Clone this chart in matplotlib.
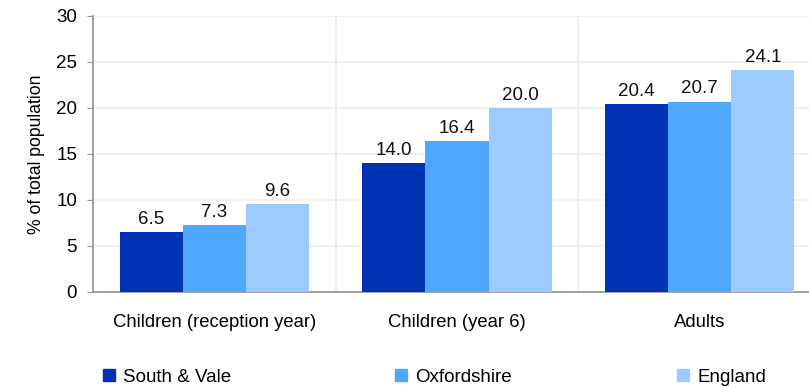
import numpy as np
import matplotlib.pyplot as plt
from matplotlib.lines import Line2D

plt.rcParams['font.family'] = ['Liberation Sans', 'DejaVu Sans']

categories = ['Children (reception year)', 'Children (year 6)', 'Adults']
series = ['South & Vale', 'Oxfordshire', 'England']
south_vale = [6.5, 14.0, 20.4]
oxfordshire = [7.3, 16.4, 20.7]
england = [9.6, 20.0, 24.1]
colors = ['#0033B3', '#4FA8FF', '#9CCBFF']

fig = plt.figure(figsize=(8.09, 3.88), dpi=100)
# the plot area runs a little past the right edge of the picture
ax = fig.add_axes([93 / 809, 1 - 292 / 388, 728 / 809, 276 / 388])

x = np.arange(len(categories))
w = 0.26
for k, (vals, col) in enumerate(zip([south_vale, oxfordshire, england], colors)):
    pos = x + (k - 1) * w
    ax.bar(pos, vals, w, color=col, zorder=3, label=series[k])
    for xi, v in zip(pos, vals):
        ax.text(xi, v + 0.45, f'{v:.1f}', ha='center', va='bottom', fontsize=13.5, color='#111111')

ax.set_xlim(-0.5, 2.5)
ax.set_ylim(0, 30)
ax.set_yticks(range(0, 31, 5))
ax.set_xticks(x)
ax.set_xticklabels(categories, fontsize=13.3)
ax.tick_params(axis='x', length=0, pad=16)
ax.tick_params(axis='y', labelsize=13.5, length=4.5, color='#999999', pad=7)
ax.set_xticks([0.5, 1.5], minor=True)
ax.tick_params(axis='x', which='minor', length=0)

ax.grid(axis='y', color='#EEEEEE', linewidth=1.2, zorder=0)
ax.grid(axis='x', which='minor', color='#EEEEEE', linewidth=1.5, zorder=0)
for s in ['top', 'right']:
    ax.spines[s].set_visible(False)
for s in ['left', 'bottom']:
    ax.spines[s].set_color('#999999')
    ax.spines[s].set_linewidth(1.3)

ax.set_ylabel('% of total population', fontsize=12.7, labelpad=8)

# legend entries spread across the bottom
legend_x = [100 / 809, 392 / 809, 674 / 809]
for name, col, lx in zip(series, colors, legend_x):
    h = Line2D([], [], marker='s', linestyle='', color=col, markersize=8)
    fig.legend([h], [name], loc='center left', bbox_to_anchor=(lx, 1 - 377 / 388),
               frameon=False, fontsize=13.5, handletextpad=0.23, borderpad=0,
               handlelength=1.0, borderaxespad=0)

fig.savefig('out.png', dpi=100)
